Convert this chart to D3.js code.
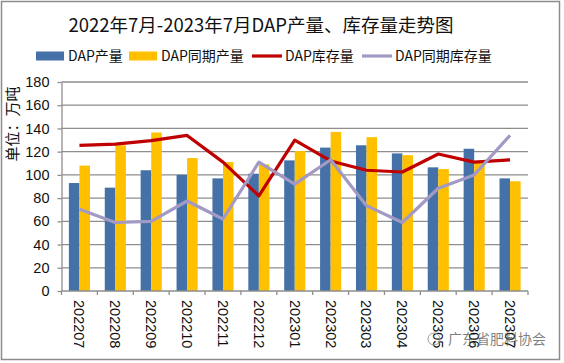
<!DOCTYPE html>
<html>
<head>
<meta charset="utf-8">
<script src="https://cdn.jsdelivr.net/npm/d3@7"></script>
<style>
  body { margin: 0; background: #fff; }
  text { font-family: "Liberation Sans", Arial, sans-serif; }
  .cjk { font-family: "Noto Sans CJK SC", sans-serif; }
</style>
</head>
<body>
<div id="chart"></div>
<script>
// data
var months = ["202207","202208","202209","202210","202211","202212","202301",
              "202302","202303","202304","202305","202306","202307"];
var output     = [93, 89, 104, 100, 97, 101, 112.5, 123.5, 125.5, 118.5, 106.5, 122.5, 97];
var outputPrev = [108, 125.5, 136.5, 114.5, 111, 109, 120.5, 137, 132.5, 117, 105, 111, 94.5];
var stock      = [125.5, 126.5, 129.5, 134, 111, 82, 130, 112, 104, 102.5, 118, 111, 113];
var stockPrev  = [70.5, 59, 60, 77.5, 62, 111, 92, 113, 73.5, 59, 88.5, 100, 134];
var yTicks = [0, 20, 40, 60, 80, 100, 120, 140, 160, 180];

var seriesNames = ["DAP产量", "DAP同期产量", "DAP库存量", "DAP同期库存量"],
    colors = ["#4472a8", "#ffc000", "#c00000", "#a299c4"];

var width = 564, height = 363,
    margin = {top: 82, right: 36, bottom: 72, left: 61.5};

var svg = d3.select("#chart").append("svg")
    .attr("width", width)
    .attr("height", height);

// outer frame
svg.append("rect")
    .attr("x", 1.5).attr("y", 1.5)
    .attr("width", 558).attr("height", 358)
    .attr("fill", "#fff")
    .attr("stroke", "#8c8c8c")
    .attr("stroke-width", 1.5);

var x = d3.scaleBand()
    .domain(months)
    .range([margin.left, width - margin.right]);

var x1 = d3.scaleBand()
    .domain([0, 1])
    .range([0, x.bandwidth()])
    .paddingOuter(0.7);

var y = d3.scaleLinear()
    .domain([0, 180])
    .range([height - margin.bottom, margin.top]);

// grid lines
svg.append("g").selectAll("line")
    .data(yTicks.slice(1))
    .enter().append("line")
    .attr("x1", margin.left).attr("x2", width - margin.right)
    .attr("y1", function(d){ return y(d); })
    .attr("y2", function(d){ return y(d); })
    .attr("stroke", "#8e8e8e")
    .attr("stroke-width", 1.3);

// bars
var bars = svg.append("g").attr("class", "bars");
[output, outputPrev].forEach(function(vals, k){
    bars.selectAll(".s" + k)
        .data(vals)
        .enter().append("rect")
        .attr("class", "s" + k)
        .attr("x", function(d, i){ return x(months[i]) + x1(k); })
        .attr("y", function(d){ return y(d); })
        .attr("width", x1.bandwidth())
        .attr("height", function(d){ return y(0) - y(d); })
        .attr("fill", colors[k]);
});

// lines
var line = d3.line()
    .x(function(d, i){ return x(months[i]) + x.bandwidth() / 2; })
    .y(function(d){ return y(d); });

[stock, stockPrev].forEach(function(vals, k){
    svg.append("path")
        .datum(vals)
        .attr("d", line)
        .attr("fill", "none")
        .attr("stroke", colors[k + 2])
        .attr("stroke-width", 3.2)
        .attr("stroke-linejoin", "round");
});

// y axis
var yAxis = d3.axisLeft(y)
    .tickValues(yTicks)
    .tickSizeInner(4)
    .tickSizeOuter(0)
    .tickPadding(8);

var gy = svg.append("g")
    .attr("transform", "translate(" + margin.left + ",0)")
    .call(yAxis);
gy.select(".domain").attr("stroke", "#8e8e8e").attr("stroke-width", 1.3);
gy.selectAll(".tick line").attr("stroke", "#8e8e8e").attr("stroke-width", 1.3);
gy.selectAll(".tick text")
    .attr("fill", "#111")
    .style("font-size", "14.5px");

// x axis: ticks sit on the band edges
var gx = svg.append("g");
gx.append("line")
    .attr("x1", margin.left).attr("x2", width - margin.right)
    .attr("y1", y(0)).attr("y2", y(0))
    .attr("stroke", "#8e8e8e").attr("stroke-width", 1.3);
gx.selectAll(".xt")
    .data(months.concat(["end"]))
    .enter().append("line")
    .attr("class", "xt")
    .attr("x1", function(d, i){ return margin.left + i * x.step(); })
    .attr("x2", function(d, i){ return margin.left + i * x.step(); })
    .attr("y1", y(0)).attr("y2", y(0) + 4)
    .attr("stroke", "#8e8e8e").attr("stroke-width", 1.3);
gx.selectAll(".xl")
    .data(months)
    .enter().append("text")
    .attr("class", "xl")
    .attr("transform", function(d){
        return "translate(" + (x(d) + x.bandwidth() / 2) + "," + (y(0) + 9) + ") rotate(90)";
    })
    .attr("dy", "0.35em")
    .attr("text-anchor", "start")
    .attr("fill", "#111")
    .style("font-size", "14.5px")
    .text(function(d){ return d; });

// y label
svg.append("text")
    .attr("class", "cjk")
    .attr("transform", "translate(13," + 124 + ") rotate(-90)")
    .attr("text-anchor", "middle")
    .attr("dy", "0.35em")
    .attr("fill", "#111")
    .style("font-size", "15px")
    .text("单位：万吨");

// title
svg.append("text")
    .attr("class", "cjk")
    .attr("x", 261).attr("y", 26)
    .attr("text-anchor", "middle")
    .attr("dy", "0.35em")
    .attr("fill", "#111")
    .style("font-size", "18.5px")
    .text("2022年7月-2023年7月DAP产量、库存量走势图");

// legend
var legendX = [36, 129, 252, 362];
var legend = svg.append("g").selectAll("g")
    .data(seriesNames)
    .enter().append("g")
    .attr("transform", function(d, i){ return "translate(" + legendX[i] + ",56)"; });
legend.each(function(d, i){
    var g = d3.select(this);
    if (i < 2) {
        g.append("rect")
            .attr("x", 0).attr("y", -4.5)
            .attr("width", 28).attr("height", 9)
            .attr("fill", colors[i]);
    } else {
        g.append("line")
            .attr("x1", 0).attr("x2", 30)
            .attr("stroke", colors[i])
            .attr("stroke-width", 3.2);
    }
    g.append("text")
        .attr("class", "cjk")
        .attr("x", i < 2 ? 32 : 33)
        .attr("dy", "0.35em")
        .attr("fill", "#111")
        .style("font-size", "14px")
        .text(d);
});

// watermark
svg.append("text")
    .attr("class", "cjk")
    .attr("x", 448).attr("y", 339)
    .attr("dy", "0.35em")
    .attr("fill", "#555")
    .attr("fill-opacity", 0.75)
    .style("font-size", "14px")
    .text("广东省肥料协会");
svg.append("circle")
    .attr("cx", 434).attr("cy", 339).attr("r", 6)
    .attr("fill", "none")
    .attr("stroke", "#999")
    .attr("stroke-width", 1);
</script>
</body>
</html>
